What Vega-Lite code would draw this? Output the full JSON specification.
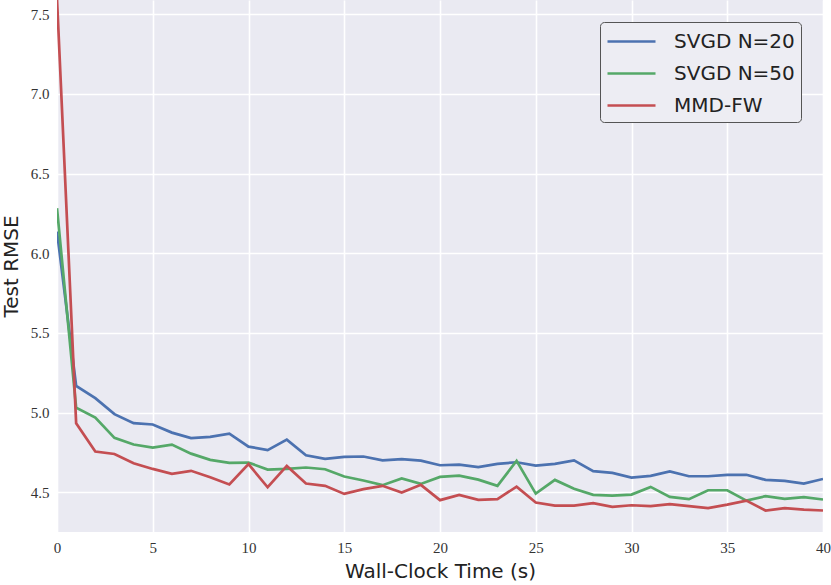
{
  "$schema": "https://vega.github.io/schema/vega-lite/v6.json",
  "width": 766,
  "height": 532,
  "autosize": {"type": "none"},
  "padding": {"left": 57, "top": 0, "right": 8, "bottom": 53},
  "background": "white",
  "config": {
    "view": {"fill": "#eaeaf2", "stroke": null},
    "axis": {
      "grid": true,
      "gridColor": "white",
      "gridWidth": 1.6,
      "domain": false,
      "ticks": false,
      "labelFont": "Liberation Serif",
      "labelFontSize": 15,
      "labelColor": "#333333",
      "titleFont": "DejaVu Sans",
      "titleFontSize": 20,
      "titleFontWeight": "normal",
      "titleColor": "#222222"
    }
  },
  "datasets": {
    "rmse": [
      {"t": 0, "series": "SVGD N=20", "v": 6.136},
      {"t": 1, "series": "SVGD N=20", "v": 5.167},
      {"t": 2, "series": "SVGD N=20", "v": 5.09},
      {"t": 3, "series": "SVGD N=20", "v": 4.99},
      {"t": 4, "series": "SVGD N=20", "v": 4.933},
      {"t": 5, "series": "SVGD N=20", "v": 4.925},
      {"t": 6, "series": "SVGD N=20", "v": 4.874},
      {"t": 7, "series": "SVGD N=20", "v": 4.84},
      {"t": 8, "series": "SVGD N=20", "v": 4.847},
      {"t": 9, "series": "SVGD N=20", "v": 4.868},
      {"t": 10, "series": "SVGD N=20", "v": 4.786},
      {"t": 11, "series": "SVGD N=20", "v": 4.764},
      {"t": 12, "series": "SVGD N=20", "v": 4.83},
      {"t": 13, "series": "SVGD N=20", "v": 4.732},
      {"t": 14, "series": "SVGD N=20", "v": 4.709},
      {"t": 15, "series": "SVGD N=20", "v": 4.722},
      {"t": 16, "series": "SVGD N=20", "v": 4.724},
      {"t": 17, "series": "SVGD N=20", "v": 4.70},
      {"t": 18, "series": "SVGD N=20", "v": 4.707},
      {"t": 19, "series": "SVGD N=20", "v": 4.698},
      {"t": 20, "series": "SVGD N=20", "v": 4.669},
      {"t": 21, "series": "SVGD N=20", "v": 4.673},
      {"t": 22, "series": "SVGD N=20", "v": 4.657},
      {"t": 23, "series": "SVGD N=20", "v": 4.678},
      {"t": 24, "series": "SVGD N=20", "v": 4.688},
      {"t": 25, "series": "SVGD N=20", "v": 4.667},
      {"t": 26, "series": "SVGD N=20", "v": 4.678},
      {"t": 27, "series": "SVGD N=20", "v": 4.70},
      {"t": 28, "series": "SVGD N=20", "v": 4.632},
      {"t": 29, "series": "SVGD N=20", "v": 4.621},
      {"t": 30, "series": "SVGD N=20", "v": 4.592},
      {"t": 31, "series": "SVGD N=20", "v": 4.602},
      {"t": 32, "series": "SVGD N=20", "v": 4.63},
      {"t": 33, "series": "SVGD N=20", "v": 4.60},
      {"t": 34, "series": "SVGD N=20", "v": 4.60},
      {"t": 35, "series": "SVGD N=20", "v": 4.609},
      {"t": 36, "series": "SVGD N=20", "v": 4.609},
      {"t": 37, "series": "SVGD N=20", "v": 4.577},
      {"t": 38, "series": "SVGD N=20", "v": 4.571},
      {"t": 39, "series": "SVGD N=20", "v": 4.554},
      {"t": 40, "series": "SVGD N=20", "v": 4.583},
      {"t": 0, "series": "SVGD N=50", "v": 6.283},
      {"t": 1, "series": "SVGD N=50", "v": 5.031},
      {"t": 2, "series": "SVGD N=50", "v": 4.968},
      {"t": 3, "series": "SVGD N=50", "v": 4.841},
      {"t": 4, "series": "SVGD N=50", "v": 4.799},
      {"t": 5, "series": "SVGD N=50", "v": 4.78},
      {"t": 6, "series": "SVGD N=50", "v": 4.799},
      {"t": 7, "series": "SVGD N=50", "v": 4.742},
      {"t": 8, "series": "SVGD N=50", "v": 4.703},
      {"t": 9, "series": "SVGD N=50", "v": 4.684},
      {"t": 10, "series": "SVGD N=50", "v": 4.686},
      {"t": 11, "series": "SVGD N=50", "v": 4.642},
      {"t": 12, "series": "SVGD N=50", "v": 4.646},
      {"t": 13, "series": "SVGD N=50", "v": 4.655},
      {"t": 14, "series": "SVGD N=50", "v": 4.644},
      {"t": 15, "series": "SVGD N=50", "v": 4.598},
      {"t": 16, "series": "SVGD N=50", "v": 4.573},
      {"t": 17, "series": "SVGD N=50", "v": 4.544},
      {"t": 18, "series": "SVGD N=50", "v": 4.586},
      {"t": 19, "series": "SVGD N=50", "v": 4.552},
      {"t": 20, "series": "SVGD N=50", "v": 4.596},
      {"t": 21, "series": "SVGD N=50", "v": 4.604},
      {"t": 22, "series": "SVGD N=50", "v": 4.579},
      {"t": 23, "series": "SVGD N=50", "v": 4.54},
      {"t": 24, "series": "SVGD N=50", "v": 4.697},
      {"t": 25, "series": "SVGD N=50", "v": 4.491},
      {"t": 26, "series": "SVGD N=50", "v": 4.577},
      {"t": 27, "series": "SVGD N=50", "v": 4.522},
      {"t": 28, "series": "SVGD N=50", "v": 4.483},
      {"t": 29, "series": "SVGD N=50", "v": 4.479},
      {"t": 30, "series": "SVGD N=50", "v": 4.485},
      {"t": 31, "series": "SVGD N=50", "v": 4.533},
      {"t": 32, "series": "SVGD N=50", "v": 4.47},
      {"t": 33, "series": "SVGD N=50", "v": 4.456},
      {"t": 34, "series": "SVGD N=50", "v": 4.512},
      {"t": 35, "series": "SVGD N=50", "v": 4.512},
      {"t": 36, "series": "SVGD N=50", "v": 4.447},
      {"t": 37, "series": "SVGD N=50", "v": 4.475},
      {"t": 38, "series": "SVGD N=50", "v": 4.458},
      {"t": 39, "series": "SVGD N=50", "v": 4.469},
      {"t": 40, "series": "SVGD N=50", "v": 4.454},
      {"t": 0, "series": "MMD-FW", "v": 7.6},
      {"t": 1, "series": "MMD-FW", "v": 4.933},
      {"t": 2, "series": "MMD-FW", "v": 4.755},
      {"t": 3, "series": "MMD-FW", "v": 4.74},
      {"t": 4, "series": "MMD-FW", "v": 4.682},
      {"t": 5, "series": "MMD-FW", "v": 4.646},
      {"t": 6, "series": "MMD-FW", "v": 4.615},
      {"t": 7, "series": "MMD-FW", "v": 4.634},
      {"t": 8, "series": "MMD-FW", "v": 4.594},
      {"t": 9, "series": "MMD-FW", "v": 4.548},
      {"t": 10, "series": "MMD-FW", "v": 4.676},
      {"t": 11, "series": "MMD-FW", "v": 4.531},
      {"t": 12, "series": "MMD-FW", "v": 4.665},
      {"t": 13, "series": "MMD-FW", "v": 4.554},
      {"t": 14, "series": "MMD-FW", "v": 4.54},
      {"t": 15, "series": "MMD-FW", "v": 4.489},
      {"t": 16, "series": "MMD-FW", "v": 4.519},
      {"t": 17, "series": "MMD-FW", "v": 4.54},
      {"t": 18, "series": "MMD-FW", "v": 4.498},
      {"t": 19, "series": "MMD-FW", "v": 4.546},
      {"t": 20, "series": "MMD-FW", "v": 4.45},
      {"t": 21, "series": "MMD-FW", "v": 4.483},
      {"t": 22, "series": "MMD-FW", "v": 4.452},
      {"t": 23, "series": "MMD-FW", "v": 4.456},
      {"t": 24, "series": "MMD-FW", "v": 4.535},
      {"t": 25, "series": "MMD-FW", "v": 4.435},
      {"t": 26, "series": "MMD-FW", "v": 4.416},
      {"t": 27, "series": "MMD-FW", "v": 4.416},
      {"t": 28, "series": "MMD-FW", "v": 4.431},
      {"t": 29, "series": "MMD-FW", "v": 4.408},
      {"t": 30, "series": "MMD-FW", "v": 4.418},
      {"t": 31, "series": "MMD-FW", "v": 4.412},
      {"t": 32, "series": "MMD-FW", "v": 4.425},
      {"t": 33, "series": "MMD-FW", "v": 4.412},
      {"t": 34, "series": "MMD-FW", "v": 4.40},
      {"t": 35, "series": "MMD-FW", "v": 4.422},
      {"t": 36, "series": "MMD-FW", "v": 4.447},
      {"t": 37, "series": "MMD-FW", "v": 4.385},
      {"t": 38, "series": "MMD-FW", "v": 4.40},
      {"t": 39, "series": "MMD-FW", "v": 4.391},
      {"t": 40, "series": "MMD-FW", "v": 4.385}
    ]
  },
  "data": {"name": "rmse"},
  "mark": {"type": "line", "strokeWidth": 2.7, "clip": true},
  "encoding": {
    "x": {
      "field": "t",
      "type": "quantitative",
      "title": "Wall-Clock Time (s)",
      "scale": {"domain": [0, 40], "nice": false, "zero": false},
      "axis": {"values": [0, 5, 10, 15, 20, 25, 30, 35, 40], "labelPadding": 8, "titlePadding": 6, "labelFlush": false}
    },
    "y": {
      "field": "v",
      "type": "quantitative",
      "title": "Test RMSE",
      "scale": {"domain": [4.25, 7.59], "nice": false, "zero": false},
      "axis": {"values": [4.5, 5.0, 5.5, 6.0, 6.5, 7.0, 7.5], "format": ".1f", "labelPadding": 8, "titlePadding": 9, "labelFlush": false}
    },
    "color": {
      "field": "series",
      "type": "nominal",
      "scale": {"domain": ["SVGD N=20", "SVGD N=50", "MMD-FW"], "range": ["#4c72b0", "#55a868", "#c44e52"]},
      "legend": {
        "title": null,
        "orient": "none",
        "legendX": 543,
        "legendY": 22,
        "symbolType": "M-1,0H3",
        "symbolSize": 576,
        "symbolStrokeWidth": 2.7,
        "symbolFillColor": "transparent",
        "labelFont": "DejaVu Sans",
        "labelFontSize": 20,
        "labelColor": "#222222",
        "labelOffset": 41,
        "rowPadding": 8,
        "padding": 6,
        "fillColor": "#ededf3",
        "strokeColor": "#555555",
        "cornerRadius": 4
      }
    }
  }
}
